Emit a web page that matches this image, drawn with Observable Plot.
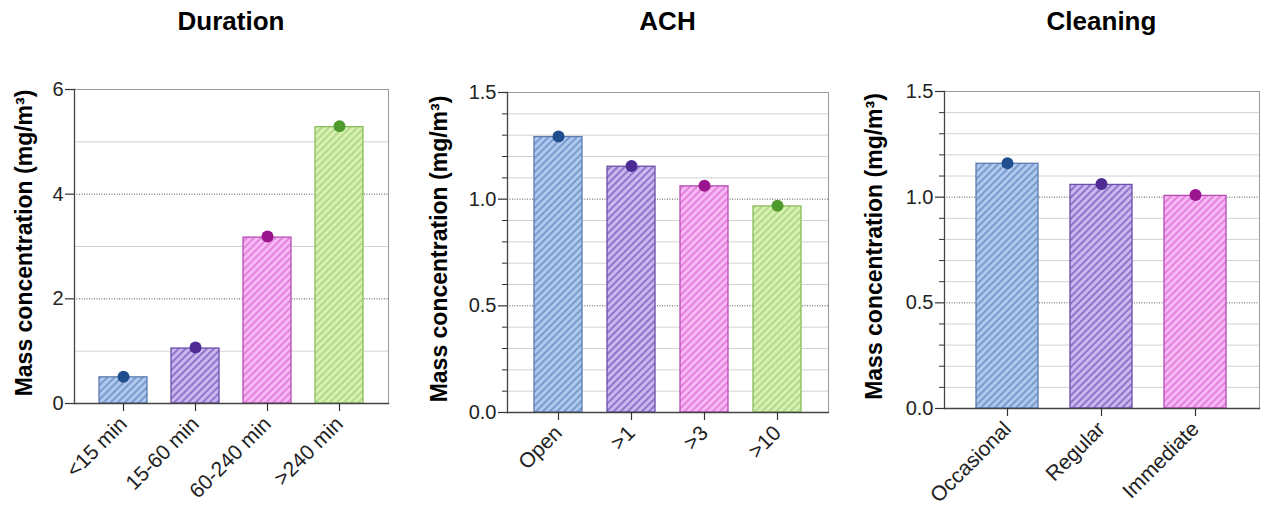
<!DOCTYPE html>
<html>
<head>
<meta charset="utf-8">
<script src="https://cdn.jsdelivr.net/npm/d3@7"></script>
<script src="https://cdn.jsdelivr.net/npm/@observablehq/plot@0.6"></script>
<style>
  body { margin: 0; background: #fff; font-family: "Liberation Sans", Arial, sans-serif; }
  #wrap { position: relative; width: 1264px; height: 511px; overflow: hidden; }
  .panel { position: absolute; top: 0; }
  .title { height: 45px; line-height: 42px; font-size: 26px; font-weight: bold; text-align: center; color: #000; }
  .panel svg { display: block; }
</style>
</head>
<body>
<svg width="0" height="0" style="position:absolute"><defs id="hatches"></defs></svg>
<div id="wrap"></div>
<script>
// ---- data ----
const yLabel = "Mass concentration (mg/m³)";

const durationCategories = ["<15 min", "15-60 min", "60-240 min", ">240 min"];
const durationBars = [0.50, 1.05, 3.17, 5.28];
const durationDots = [0.51, 1.07, 3.19, 5.30];
const durationTicks = [0, 2, 4, 6];
const durationGrid = [1, 3, 5];

const achCategories = ["Open", ">1", ">3", ">10"];
const achBars = [1.291, 1.152, 1.060, 0.966];
const achDots = [1.294, 1.155, 1.063, 0.969];

const cleaningCategories = ["Occasional", "Regular", "Immediate"];
const cleaningBars = [1.158, 1.058, 1.006];
const cleaningDots = [1.161, 1.062, 1.010];

const fractionTicks = [0, 0.5, 1.0, 1.5];
const fractionMinor = [0.1, 0.2, 0.3, 0.4, 0.6, 0.7, 0.8, 0.9, 1.1, 1.2, 1.3, 1.4];

// ---- colours ----
const palette = {
  blue:   {fill: "#aec8ee", hatch: "#6a8cc4", stroke: "#5a7bb0", dot: "#1f4f8f"},
  purple: {fill: "#cab7ef", hatch: "#7e5fc0", stroke: "#6b4fa8", dot: "#4e2a94"},
  pink:   {fill: "#f8b8f5", hatch: "#dc72d4", stroke: "#b64cb2", dot: "#9a148f"},
  green:  {fill: "#d8f1b3", hatch: "#a6d379", stroke: "#88bd5c", dot: "#4e9a2c"}
};
const colourOrder = ["blue", "purple", "pink", "green"];

// diagonal hatch patterns shared by all panels
const defs = d3.select("#hatches");
for (const [name, c] of Object.entries(palette)) {
  const p = defs.append("pattern")
    .attr("id", `hatch-${name}`)
    .attr("patternUnits", "userSpaceOnUse")
    .attr("width", 5).attr("height", 5)
    .attr("patternTransform", "rotate(45)");
  p.append("rect").attr("width", 5).attr("height", 5).attr("fill", c.fill);
  p.append("line").attr("x1", 1).attr("x2", 1).attr("y1", 0).attr("y2", 5)
    .attr("stroke", c.hatch).attr("stroke-width", 1.5);
}

const font = "'Liberation Sans', Arial, sans-serif";

function panel({title, left, width, margins, categories, bars, dots, domain, ticks, tickFormat, grid, minor, labelDx, labelDy}) {
  const rows = categories.map((cat, i) => ({cat, bar: bars[i], dot: dots[i], colour: colourOrder[i]}));
  const div = d3.select("#wrap").append("div").attr("class", "panel")
    .style("left", left + "px").style("width", width + "px");
  div.append("div").attr("class", "title")
    .style("margin-left", margins.left + "px").style("margin-right", margins.right + "px")
    .text(title);

  const marks = [
    Plot.ruleY(grid, {stroke: "#d2d2d2", strokeWidth: 1}),
    Plot.ruleY(ticks.filter(t => t > domain[0] && t < domain[1]), {stroke: "#555", strokeDasharray: "1,1.5", strokeWidth: 1}),
    Plot.frame({stroke: "#9a9a9a"}),
    Plot.barY(rows, {
      x: "cat", y: "bar",
      fill: d => `url(#hatch-${d.colour})`,
      stroke: d => palette[d.colour].stroke,
      strokeWidth: 1.3
    }),
    Plot.dot(rows, {x: "cat", y: "dot", r: 6, fill: d => palette[d.colour].dot, stroke: "none"}),
    Plot.frame({anchor: "left", stroke: "#444", strokeWidth: 1.3}),
    Plot.frame({anchor: "bottom", stroke: "#444", strokeWidth: 1.3}),
    Plot.axisY({ticks, tickSize: 9, tickPadding: 2, tickFormat, fontSize: 20, label: null, stroke: "#333", strokeWidth: 1.2, ariaLabel: "y ticks"}),
    Plot.axisX({tickSize: 8, tickPadding: 9, tickRotate: -45, fontSize: 21, label: null, stroke: "#333", strokeWidth: 1.2, ariaLabel: "x ticks"}),
    Plot.text([yLabel], {
      text: d => d, frameAnchor: "left", textAnchor: "middle", rotate: -90,
      dx: labelDx, dy: labelDy, fontSize: 23, fontWeight: "bold", fill: "#000"
    })
  ];
  if (minor) marks.push(Plot.axisY({ticks: minor, tickSize: 5, tickFormat: () => "", label: null, stroke: "#333"}));

  const chart = Plot.plot({
    width,
    height: 466,
    marginTop: margins.top, marginBottom: margins.bottom,
    marginLeft: margins.left, marginRight: margins.right,
    x: {domain: categories, padding: 0.34, axis: null},
    y: {domain, axis: null},
    color: {type: "identity"},
    style: {fontFamily: font, color: "#222", background: "transparent", overflow: "visible"},
    marks
  });
  // explicit text sizes: categories 21px, values 20px, axis title 23px bold
  const cats = new Set(categories);
  for (const t of chart.querySelectorAll("text")) {
    const s = t.textContent;
    if (s === yLabel) { t.style.fontSize = "23px"; t.style.fontWeight = "bold"; }
    else if (cats.has(s)) t.style.fontSize = "21px";
    else t.style.fontSize = "20px";
  }
  div.node().appendChild(chart);
}

panel({
  title: "Duration", left: 0, width: 420,
  margins: {top: 44, bottom: 108, left: 74, right: 32},
  categories: durationCategories, bars: durationBars, dots: durationDots,
  domain: [0, 6], ticks: durationTicks, tickFormat: d3.format("d"),
  grid: durationGrid, minor: null, labelDx: -49.5, labelDy: -3.5
});

panel({
  title: "ACH", left: 420, width: 420,
  margins: {top: 47, bottom: 99, left: 87, right: 12},
  categories: achCategories, bars: achBars, dots: achDots,
  domain: [0, 1.5], ticks: fractionTicks, tickFormat: d3.format(".1f"),
  grid: fractionMinor, minor: fractionMinor, labelDx: -68, labelDy: -3.5
});

panel({
  title: "Cleaning", left: 840, width: 424,
  margins: {top: 46, bottom: 103, left: 104, right: 5},
  categories: cleaningCategories, bars: cleaningBars, dots: cleaningDots,
  domain: [0, 1.5], ticks: fractionTicks, tickFormat: d3.format(".1f"),
  grid: fractionMinor, minor: fractionMinor, labelDx: -70, labelDy: -3.5
});
</script>
</body>
</html>
